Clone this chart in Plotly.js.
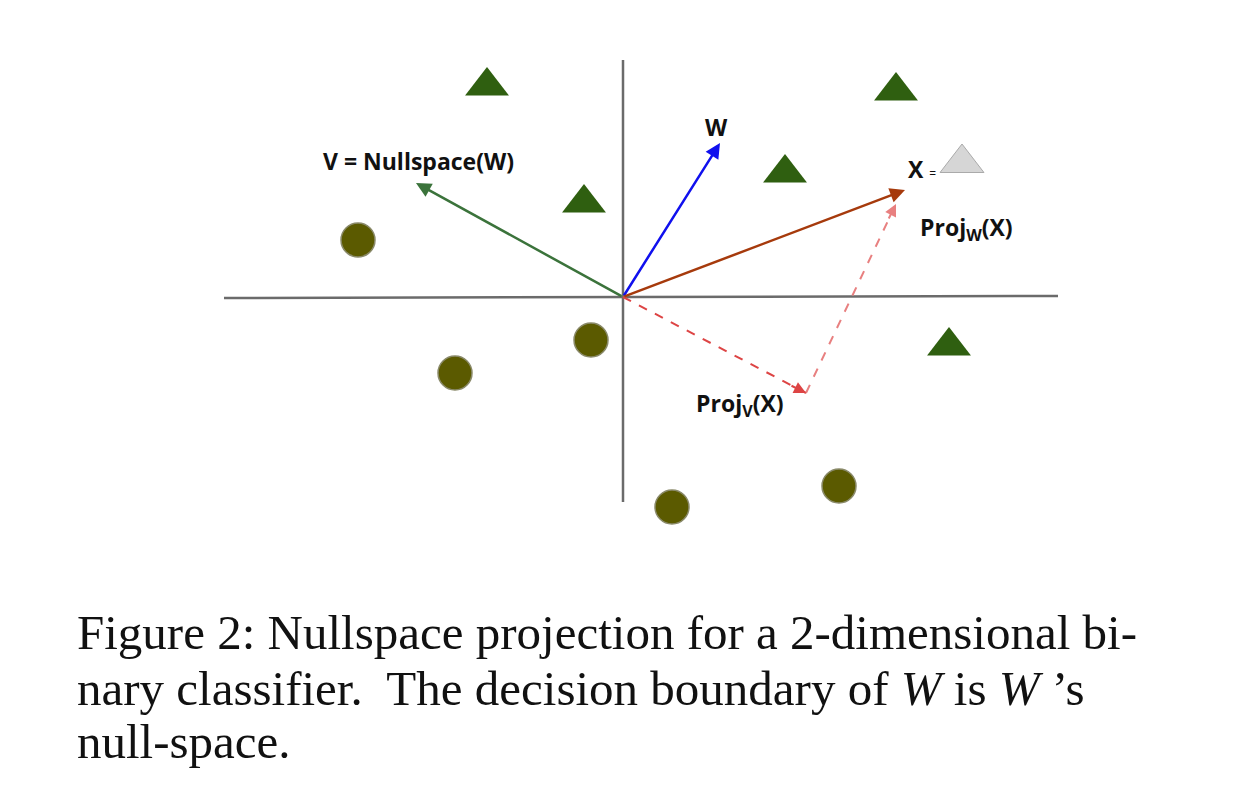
<!DOCTYPE html>
<html>
<head>
<meta charset="utf-8">
<script src="https://cdn.plot.ly/plotly-3.0.1.min.js"></script>
<style>body{margin:0;background:#fff}#fig{width:1241px;height:798px}</style>
</head>
<body>
<div id="fig"></div>
<script>
// positions, in picture pixels (y grows downwards)
const triX = [487, 896, 785, 584, 949];
const triY = [86, 91, 173, 203, 346];
const circX = [358, 455, 591, 672, 839];
const circY = [240, 373, 340, 507, 486];
const origin = [623, 297];
const wTip = [720, 143];
const vTip = [416, 183];
const xTip = [905, 190];
const projV = [806, 393];
const projWTip = [896, 204];

let data = [
    {x: [224, 1058], y: [298, 296], mode: 'lines', line: {color: '#6b6b6b', width: 2.5}, hoverinfo: 'skip'},
    {x: [623, 623], y: [60, 502], mode: 'lines', line: {color: '#6b6b6b', width: 2.5}, hoverinfo: 'skip'},
    {x: [origin[0], projV[0]], y: [origin[1], projV[1]], mode: 'lines', line: {color: '#dd4444', width: 2, dash: 'dash'}, hoverinfo: 'skip'},
    {x: [projV[0], projWTip[0]], y: [projV[1], projWTip[1]], mode: 'lines', line: {color: '#e88080', width: 2, dash: 'dash'}, hoverinfo: 'skip'},
    {x: triX, y: triY, mode: 'markers', marker: {symbol: 'triangle-up', size: 38, color: '#2f5f10'}},
    {x: circX, y: circY, mode: 'markers', marker: {symbol: 'circle', size: 34, color: '#5b5a00', line: {color: '#8a8a6a', width: 1.5}}},
    {x: [962], y: [163], mode: 'markers', marker: {symbol: 'triangle-up', size: 38, color: '#d6d6d6', line: {color: '#aaaaaa', width: 1}}}
];

function arrow(from, to, color, w) {
    return {x: to[0], y: to[1], ax: from[0], ay: from[1], xref: 'x', yref: 'y', axref: 'x', ayref: 'y',
        text: '', showarrow: true, arrowhead: 2, arrowsize: 1.2, arrowwidth: w, arrowcolor: color};
}
function label(x, y, text, size) {
    return {x: x, y: y, xref: 'x', yref: 'y', text: text, showarrow: false,
        font: {family: 'Open Sans', size: size || 23, color: '#111'}};
}
function cap(y, text) {
    return {x: 75, y: y, xref: 'x', yref: 'y', xanchor: 'left', text: text, showarrow: false,
        font: {family: 'Liberation Serif', size: 49, color: '#111'}};
}

let annotations = [
    arrow(origin, wTip, '#1010ee', 2.5),
    arrow(origin, vTip, '#3b733b', 2.5),
    arrow(origin, xTip, '#a63a0c', 2.5),
    arrow([790, 385], projV, '#dd4444', 2),
    arrow([888, 220], projWTip, '#e88080', 2),
    label(716, 127, '<b>W</b>'),
    label(418, 161, '<b>V = Nullspace(W)</b>'),
    label(922, 169, '<b>X</b> <span style="font-size:12px">=</span>'),
    label(966, 228, '<b>Proj<sub>W</sub>(X)</b>'),
    label(740, 404, '<b>Proj<sub>V</sub>(X)</b>'),
    cap(632, 'Figure 2: Nullspace projection for a 2-dimensional bi-'),
    cap(688, 'nary classifier.  The decision boundary of <i>W</i> is <i>W</i> ’s'),
    cap(741, 'null-space.')
];

let layout = {
    width: 1241, height: 798,
    margin: {l: 0, r: 0, t: 0, b: 0},
    paper_bgcolor: '#fff', plot_bgcolor: '#fff',
    showlegend: false,
    xaxis: {range: [0, 1241], visible: false, fixedrange: true},
    yaxis: {range: [798, 0], visible: false, fixedrange: true},
    annotations: annotations
};

Plotly.newPlot('fig', data, layout, {displayModeBar: false, staticPlot: true});
</script>
</body>
</html>
